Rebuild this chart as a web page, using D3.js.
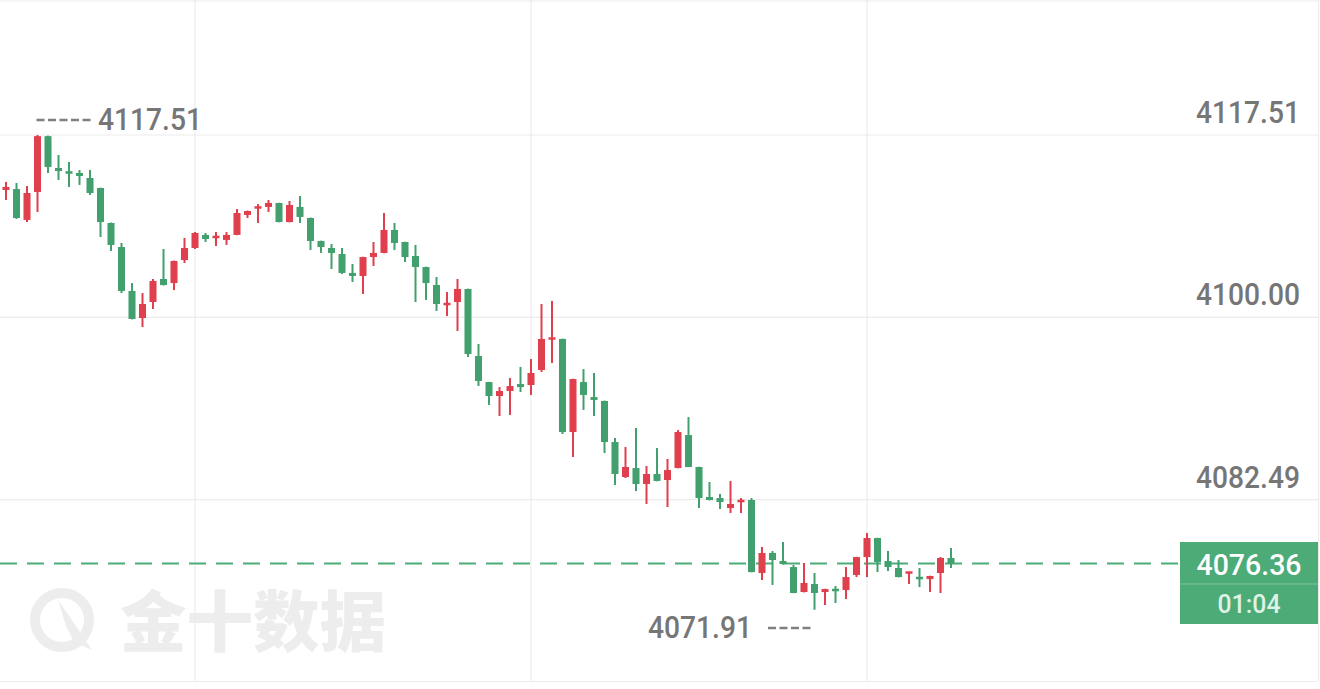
<!DOCTYPE html>
<html>
<head>
<meta charset="utf-8">
<script src="https://cdn.jsdelivr.net/npm/d3@7"></script>
<style>
html,body{margin:0;padding:0;background:#fff;}
svg{display:block;}
</style>
</head>
<body>
<svg id="chart" width="1320" height="689"></svg>
<script>
// ---- data ----
const opens = [4112.23,4112.32,4109.35,4112.04,4117.40,4114.34,4113.96,4113.86,4113.38,4112.42,
4109.06,4106.75,4102.53,4099.93,4101.47,4103.68,4103.29,4105.50,4106.66,4107.91,
4107.62,4107.43,4107.91,4109.83,4110.50,4110.60,4110.98,4109.15,4110.60,4109.54,
4107.33,4106.66,4106.08,4104.26,4103.97,4105.79,4106.18,4108.39,4107.23,4105.89,
4104.83,4103.10,4101.18,4101.47,4102.72,4096.28,4093.78,4092.44,4092.92,4093.59,
4093.50,4094.94,4097.92,4097.92,4088.98,4093.78,4092.34,4091.96,4088.02,4084.66,
4085.52,4083.99,4084.95,4084.37,4085.52,4088.69,4085.62,4082.74,4082.64,4081.68,
4082.26,4082.45,4075.44,4077.36,4076.59,4076.01,4073.61,4074.38,4073.61,4073.90,
4073.80,4075.25,4076.97,4078.80,4076.59,4075.92,4075.44,4075.05,4074.86,4075.44,
4076.88];
const highs = [4113.00,4112.90,4112.61,4117.51,4117.45,4115.59,4114.92,4114.15,4114.15,4112.45,
4109.10,4107.14,4103.29,4102.33,4103.68,4106.56,4105.45,4107.62,4108.19,4108.10,
4108.19,4108.19,4110.40,4110.25,4110.88,4111.27,4111.00,4111.17,4111.65,4109.58,
4107.36,4107.04,4106.66,4105.12,4105.82,4107.23,4110.02,4109.06,4107.26,4106.95,
4104.86,4103.87,4102.43,4103.68,4102.75,4097.44,4093.80,4093.30,4094.17,4095.23,
4095.99,4101.28,4101.57,4097.95,4094.10,4095.03,4094.65,4092.00,4088.41,4087.54,
4089.37,4085.72,4087.44,4086.39,4089.17,4090.42,4085.65,4084.18,4083.03,4084.28,
4082.64,4082.64,4077.94,4077.55,4078.42,4076.21,4076.40,4075.44,4073.93,4074.19,
4076.01,4077.00,4079.28,4078.83,4077.55,4076.69,4075.56,4075.92,4075.18,4076.97,
4077.84];
const lows = [4111.27,4109.45,4109.15,4110.12,4113.86,4113.19,4112.52,4112.71,4111.75,4107.71,
4106.37,4102.33,4099.80,4099.07,4100.80,4103.05,4102.62,4105.22,4106.56,4107.23,
4106.85,4106.95,4107.88,4109.54,4109.06,4110.12,4109.12,4109.12,4109.06,4106.46,
4106.18,4104.64,4104.16,4103.39,4102.24,4104.93,4106.15,4106.46,4105.31,4101.47,
4101.66,4100.61,4100.12,4098.68,4096.19,4093.40,4091.58,4090.52,4090.62,4092.82,
4092.54,4094.75,4095.61,4088.79,4086.58,4091.10,4090.52,4086.96,4083.89,4084.56,
4083.31,4082.07,4084.25,4081.78,4085.50,4085.60,4081.68,4082.42,4081.59,4081.20,
4081.20,4075.50,4074.77,4074.29,4076.25,4073.50,4073.58,4071.91,4072.36,4072.56,
4072.94,4075.05,4075.05,4075.53,4075.63,4075.02,4074.38,4074.09,4073.61,4073.52,
4075.92];
const closes = [4112.52,4109.54,4111.94,4117.40,4114.44,4114.05,4113.86,4113.57,4111.94,4109.15,
4106.95,4102.53,4099.84,4101.28,4103.49,4103.10,4105.41,4106.66,4108.10,4107.52,
4107.81,4107.91,4110.02,4110.21,4110.60,4110.98,4109.15,4110.79,4109.64,4107.33,
4106.75,4106.18,4104.26,4103.97,4105.79,4106.18,4108.39,4107.14,4105.79,4104.83,
4103.29,4101.28,4101.37,4102.72,4096.47,4093.88,4092.44,4092.92,4093.40,4093.30,
4094.65,4097.92,4098.01,4088.98,4094.07,4092.54,4092.06,4088.02,4084.95,4085.62,
4083.99,4084.95,4084.28,4085.33,4088.98,4085.62,4082.64,4082.45,4082.26,4082.07,
4082.45,4075.53,4077.36,4076.69,4076.30,4073.52,4074.48,4073.52,4073.90,4073.71,
4075.05,4076.97,4078.80,4076.49,4076.01,4075.05,4075.53,4074.86,4075.15,4076.88,
4076.36];
const priceTicks = [4117.51, 4100.00, 4082.49];
const priceTickLabels = ["4117.51", "4100.00", "4082.49"];
const timeGridIndex = [18, 50, 82];
const maxLabel = "4117.51";
const minLabel = "4071.91";
const lastPrice = 4076.36;
const lastPriceLabel = "4076.36";
const countdownLabel = "01:04";
const watermarkText = "金十数据";

// ---- drawing ----
const W = 1320, H = 689;
const svg = d3.select("#chart");
const RED = "#e0404e", GREEN = "#42a06e", BOX = "#4dab78", GRID = "#ececec", TXT = "#767676";
const FONT = "Roboto, 'Noto Sans', sans-serif";

const idx = d3.range(opens.length);
const x = d3.scaleBand().domain(idx).range([0.75, 0.75 + idx.length * 10.5]).paddingInner(0.33).paddingOuter(0.165);
const xc = i => x(i) + x.bandwidth() / 2;
const y = d3.scaleLinear().domain([4082.49, 4117.51]).range([499.6, 135]);

// watermark
const wm = svg.append("g").attr("fill", "#ededed");
wm.append("circle").attr("cx", 62).attr("cy", 620).attr("r", 27)
  .attr("fill", "none").attr("stroke", "#ededed").attr("stroke-width", 10);
wm.append("path").attr("d", "M58 600 L80 632 L92 650 L74 642 L66 626 Z");
wm.append("text").attr("x", 120).attr("y", 646).attr("font-family", "'Noto Sans CJK SC', sans-serif")
  .attr("font-weight", 900).attr("font-size", 66).attr("textLength", 266).attr("lengthAdjust", "spacingAndGlyphs")
  .text(watermarkText);

// grid
const grid = svg.append("g").attr("stroke", GRID).attr("stroke-width", 1.2);
grid.selectAll("line.h").data(priceTicks).join("line").attr("class", "h")
  .attr("x1", 0).attr("x2", 1318).attr("y1", d => y(d)).attr("y2", d => y(d));
grid.selectAll("line.v").data(timeGridIndex).join("line").attr("class", "v")
  .attr("x1", d => xc(d)).attr("x2", d => xc(d)).attr("y1", 0).attr("y2", 681);
grid.append("line").attr("x1", 0).attr("x2", 1318).attr("y1", 681.5).attr("y2", 681.5);
grid.append("line").attr("x1", 1318.5).attr("x2", 1318.5).attr("y1", 0).attr("y2", 681);
grid.append("line").attr("x1", 0).attr("x2", 1318).attr("y1", 1).attr("y2", 1);

// y labels
svg.append("g").selectAll("text").data(priceTicks).join("text")
  .attr("x", 1196).attr("y", d => y(d) - 12)
  .attr("font-family", FONT).attr("font-weight", 500).attr("font-size", 32)
  .attr("fill", TXT).attr("textLength", 104).attr("lengthAdjust", "spacingAndGlyphs")
  .text((d, i) => priceTickLabels[i]);

// last price dashed line
svg.append("line").attr("x1", 0).attr("x2", 1180).attr("y1", y(lastPrice)).attr("y2", y(lastPrice))
  .attr("stroke", BOX).attr("stroke-width", 2).attr("stroke-dasharray", "17,10");

// candles
const g = svg.append("g");
const cand = g.selectAll("g.c").data(idx).join("g").attr("class", "c");
const col = i => closes[i] >= opens[i] ? RED : GREEN;
cand.append("rect")
  .attr("x", i => xc(i) - 1).attr("width", 2)
  .attr("y", i => y(highs[i])).attr("height", i => Math.max(1, y(lows[i]) - y(highs[i])))
  .attr("fill", col);
cand.append("rect")
  .attr("x", i => x(i)).attr("width", x.bandwidth())
  .attr("y", i => {
    const t = y(Math.max(opens[i], closes[i])), b = y(Math.min(opens[i], closes[i]));
    return b - t < 2.5 ? (t + b) / 2 - 1.25 : t;
  })
  .attr("height", i => Math.max(2.5, y(Math.min(opens[i], closes[i])) - y(Math.max(opens[i], closes[i]))))
  .attr("fill", col);

// max / min annotations
const iMax = d3.maxIndex(highs), iMin = d3.minIndex(lows);
svg.append("line").attr("x1", xc(iMax) - 1).attr("x2", 93).attr("y1", 120).attr("y2", 120)
  .attr("stroke", "#808080").attr("stroke-width", 2.5).attr("stroke-dasharray", "8,3.5");
svg.append("text").attr("x", 98).attr("y", 130).attr("font-family", FONT).attr("font-weight", 500)
  .attr("font-size", 32).attr("fill", TXT).attr("textLength", 104).attr("lengthAdjust", "spacingAndGlyphs")
  .text(maxLabel);
svg.append("text").attr("x", 648).attr("y", 638).attr("font-family", FONT).attr("font-weight", 500)
  .attr("font-size", 32).attr("fill", TXT).attr("textLength", 104).attr("lengthAdjust", "spacingAndGlyphs")
  .text(minLabel);
svg.append("line").attr("x1", 768).attr("x2", xc(iMin) - 3).attr("y1", 628).attr("y2", 628)
  .attr("stroke", "#808080").attr("stroke-width", 2.5).attr("stroke-dasharray", "8,3.5");

// last price box
const bx = svg.append("g");
bx.append("rect").attr("x", 1180).attr("y", 542).attr("width", 138).attr("height", 82).attr("fill", BOX);
bx.append("line").attr("x1", 1180).attr("x2", 1318).attr("y1", 584).attr("y2", 584)
  .attr("stroke", "#7cc49c").attr("stroke-width", 1);
bx.append("text").attr("x", 1249).attr("y", 575).attr("text-anchor", "middle")
  .attr("font-family", FONT).attr("font-weight", 500).attr("font-size", 29).attr("fill", "#ffffff")
  .attr("textLength", 105).attr("lengthAdjust", "spacingAndGlyphs").text(lastPriceLabel);
bx.append("text").attr("x", 1249).attr("y", 613).attr("text-anchor", "middle")
  .attr("font-family", FONT).attr("font-weight", 500).attr("font-size", 25).attr("fill", "#def2e6")
  .attr("textLength", 63).attr("lengthAdjust", "spacingAndGlyphs").text(countdownLabel);
</script>
</body>
</html>
